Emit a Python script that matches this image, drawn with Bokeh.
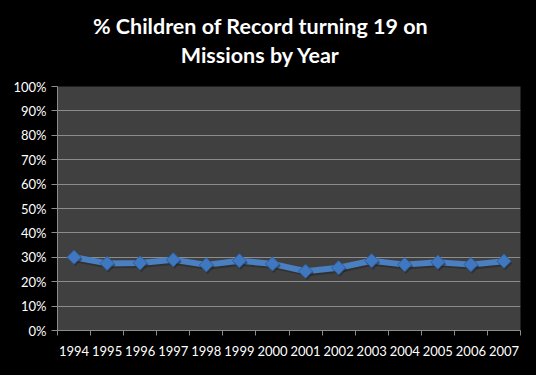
import math
from bokeh.plotting import figure
from bokeh.layouts import column
from bokeh.models import FixedTicker, NumeralTickFormatter, Range1d
from bokeh.core.properties import value
from bokeh.embed import file_html
from bokeh.resources import INLINE

years = ["1994", "1995", "1996", "1997", "1998", "1999", "2000",
         "2001", "2002", "2003", "2004", "2005", "2006", "2007"]
pct = [0.300, 0.275, 0.277, 0.290, 0.269, 0.286, 0.273,
       0.243, 0.257, 0.286, 0.270, 0.280, 0.270, 0.284]
y_ticks = [0.0, 0.1, 0.2, 0.3, 0.4, 0.5, 0.6, 0.7, 0.8, 0.9, 1.0]
title_lines = ["% Children of Record turning 19 on", "Missions by Year"]

FONT = "Lato"
W = 536
TITLE_H = 76
BORDER_L, BORDER_R = 57, 16
n = len(years)
xs = [i + 0.5 for i in range(n)]
BLACK = {"background-color": "black"}

# ---- title strip (pixel-like coordinates, y downward) ----
t = figure(width=W, height=TITLE_H, output_backend="svg", toolbar_location=None,
           x_range=Range1d(BORDER_L, W - BORDER_R), y_range=Range1d(TITLE_H, 0),
           x_axis_type=None, y_axis_type=None,
           min_border_left=BORDER_L, min_border_right=BORDER_R,
           min_border_top=0, min_border_bottom=0, styles=BLACK)
t.title = None
t.outline_line_color = None
t.background_fill_color = "black"
t.border_fill_color = "black"
t.text(x=[260, 260], y=[25.5, 54.5], text=title_lines, text_align="center",
       text_baseline="alphabetic", text_color="white", text_font=value(FONT),
       text_font_size="21.5px", text_font_style="bold")

# ---- main chart ----
p = figure(width=W, height=375 - TITLE_H, output_backend="svg", toolbar_location=None,
           x_range=Range1d(0, n), y_range=Range1d(0, 1),
           min_border_left=BORDER_L, min_border_right=BORDER_R, min_border_top=86 - TITLE_H,
           min_border_bottom=45, styles=BLACK)
p.title = None
p.border_fill_color = "black"
p.background_fill_color = "#404040"
p.outline_line_color = None

# grid
p.xgrid.visible = False
p.ygrid.ticker = FixedTicker(ticks=y_ticks)
p.ygrid.grid_line_color = "#8c8c8c"
p.ygrid.grid_line_width = 1

# x axis
xa = p.xaxis[0]
xa.ticker = FixedTicker(ticks=xs, minor_ticks=list(range(n + 1)))
xa.major_label_overrides = {x: y for x, y in zip(xs, years)}
xa.major_tick_out = 0
xa.major_tick_in = 0
xa.minor_tick_out = 5
xa.minor_tick_in = 0
xa.minor_tick_line_color = "#8c8c8c"
xa.axis_line_color = "#8c8c8c"
xa.major_label_text_color = "white"
xa.major_label_text_font = FONT
xa.major_label_text_font_size = "13px"
xa.major_label_standoff = 10

# y axis
ya = p.yaxis[0]
ya.ticker = FixedTicker(ticks=y_ticks)
ya.formatter = NumeralTickFormatter(format="0%")
ya.major_tick_out = 6
ya.major_tick_in = 0
ya.minor_tick_line_color = None
ya.major_tick_line_color = "#8c8c8c"
ya.axis_line_color = "#8c8c8c"
ya.major_label_text_color = "white"
ya.major_label_text_font = FONT
ya.major_label_text_font_size = "13px"
ya.major_label_standoff = 5

# shadow + series
sx = [x + 0.04 for x in xs]
sy = [v - 0.008 for v in pct]
p.line(sx, sy, line_color="#222222", line_width=6, line_alpha=0.5)
p.line(xs, pct, line_color="#4a7fc1", line_width=6)
p.scatter(sx, sy, marker="square", size=10, angle=math.pi / 4,
          fill_color="#222222", fill_alpha=0.5, line_color=None)
p.scatter(xs, pct, marker="square", size=10, angle=math.pi / 4, fill_color="#3f78c0",
          line_color="#2f5f9f", line_width=1)

layout = column(t, p, spacing=0, styles=BLACK)
open("out.html", "w").write(file_html(layout, INLINE))
